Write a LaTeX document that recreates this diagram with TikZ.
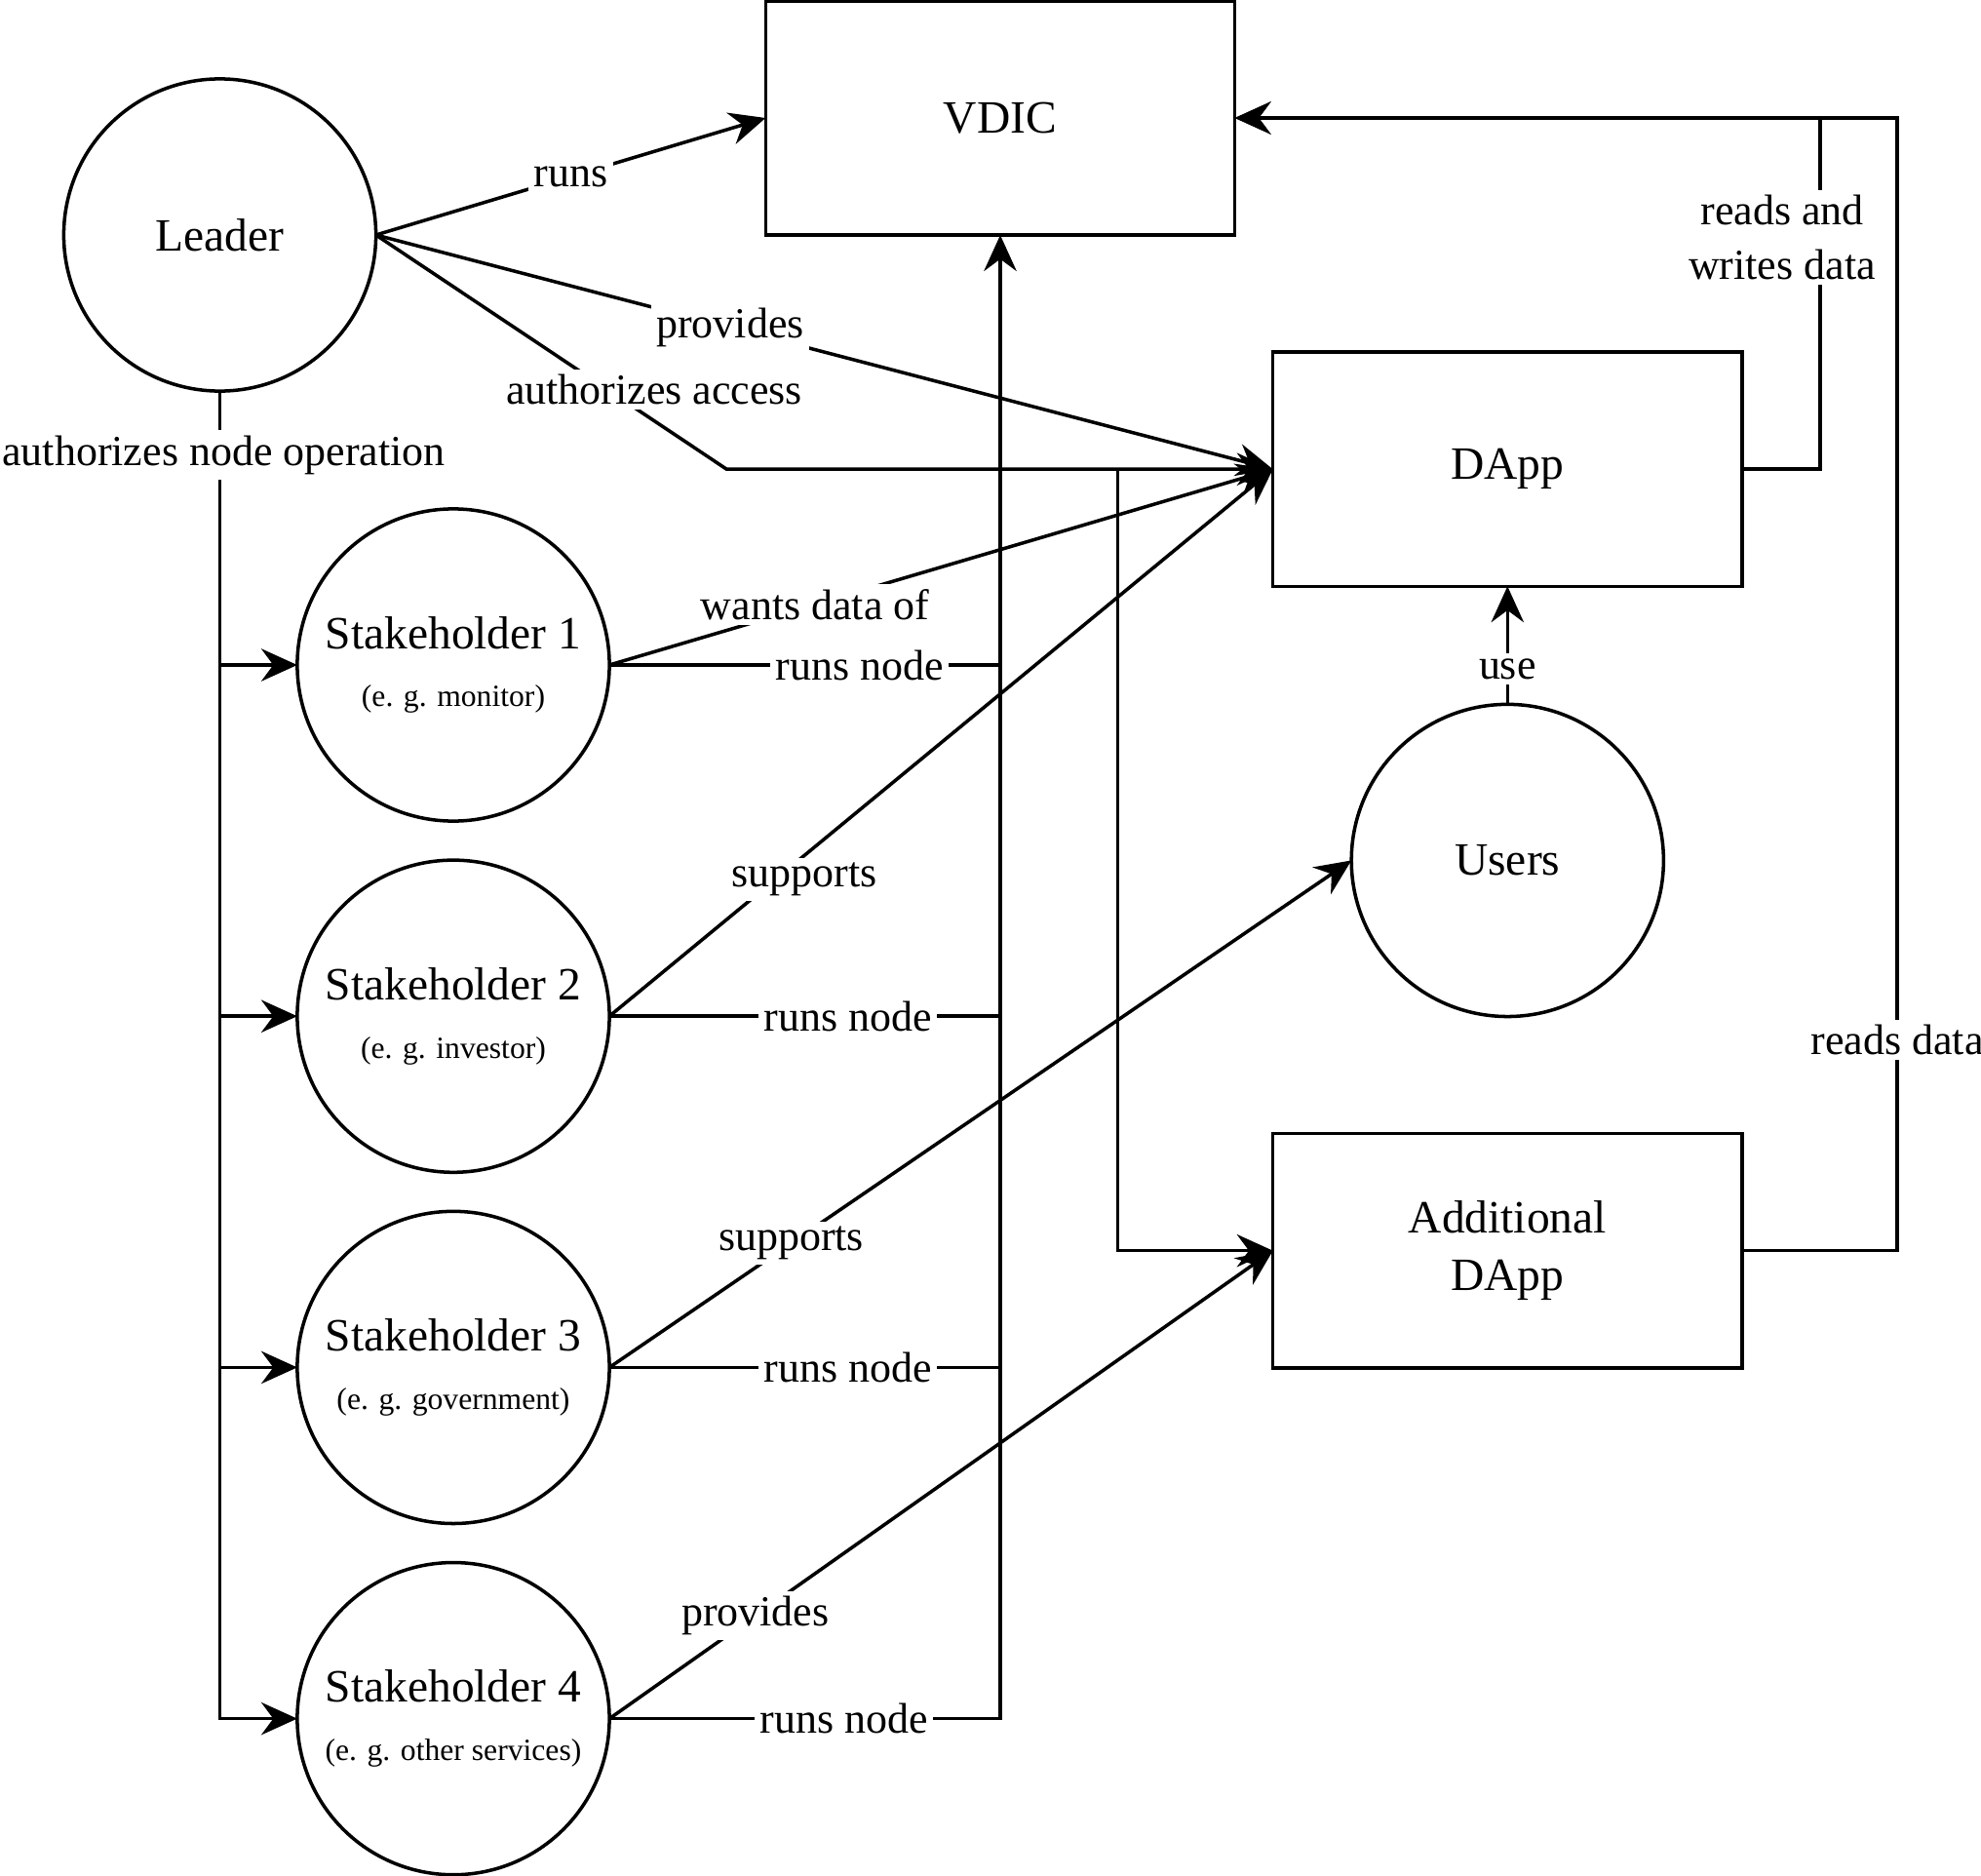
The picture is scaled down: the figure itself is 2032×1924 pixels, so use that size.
\documentclass[tikz,border=0pt]{standalone}
\usepackage{fontspec}
\setmainfont{Liberation Serif}
\usetikzlibrary{arrows.meta,positioning,calc}
\newcommand{\egnote}[1]{\\[0pt]{\fontsize{9}{11}\selectfont (e. g. #1)}}

\begin{document}
\begin{tikzpicture}[x=0.01cm,y=-0.01cm,>={Stealth[length=10.5pt,width=9.5pt,inset=3.5pt]},line width=1pt]
			\tikzset{actor/.style={draw, circle, minimum size=3.2cm, inner sep=0pt, outer sep=0pt, align=center, font=\fontsize{13.5}{17}\selectfont},
				block/.style={draw, rectangle, minimum width=4.81cm, minimum height=2.4cm, outer sep=0pt, align=center, font=\fontsize{13.5}{17}\selectfont},
				lbl/.style={fill=white, inner sep=1.5pt, align=center, font=\fontsize{12.5}{16}\selectfont},
			}
			\useasboundingbox (0,0) rectangle (2032,1924);
			\node [block] (vdic) at (1026,121) {VDIC};
			\node [block, below right = 1.2cm and 0.39cm of vdic] (dapp) {DApp};
			\node [actor, below = 1.21cm of dapp] (users) {Users};
			\node [block, below = 1.2cm of users] (adddapp) {Additional\\DApp};
			\node [actor] (leader) at (225.5,241) {Leader};
			\node [actor] (sh1) at (465,682) {Stakeholder 1\egnote{monitor}};
			\node [actor, below = 4mm of sh1] (sh2) {Stakeholder 2\egnote{investor}};
			\node [actor, below = 4mm of sh2] (sh3) {Stakeholder 3\egnote{government}};
			\node [actor, below = 4mm of sh3] (sh4) {Stakeholder 4\egnote{other services}};

			% leader
			\draw[->] (leader.east) -- node[lbl]{runs} (vdic.west);
			\draw[->] (leader.east) -- node[lbl,pos=0.395]{provides} (dapp.west);
			\coordinate (acc) at ([xshift=-5.6cm]dapp.west);
			\coordinate (fork) at ([xshift=-1.59cm]dapp.west);
			\draw[->] (leader.east) -- node[lbl,pos=0.66,xshift=4.8mm]{authorizes access} (acc) -- (dapp.west);
			\draw[->] (fork) |- (adddapp.west);
			\draw[->] (leader.south) |- node[lbl,pos=0.024,xshift=0.4mm]{authorizes node operation} (sh4.west);
			\foreach \s in {sh1,sh2,sh3}
				\draw[->] (leader.south |- \s.west) -- (\s.west);

			% stakeholders
			\foreach \s/\p in {sh1/0.64,sh2/0.61,sh3/0.61}
				\draw (\s.east) -- node[lbl,pos=\p]{runs node} (\s.east -| vdic.south);
			\draw[->] (sh4.east) -- node[lbl,pos=0.6]{runs node} (sh4.east -| vdic.south) -- (vdic.south);
			\draw[->] (sh1.east) -- node[lbl,pos=0.31]{wants data of} (dapp.west);
			\draw[->] (sh2.east) -- node[lbl,pos=0.25,xshift=3mm]{supports} (dapp.west);
			\draw[->] (sh3.east) -- node[lbl,pos=0.245]{supports} (users.west);
			\draw[->] (sh4.east) -- node[lbl,pos=0.22]{provides} (adddapp.west);

			% apps
			\draw[->] (users.north) -- node[lbl,pos=0.3]{use} (dapp.south);
			\draw[->] (dapp.east) -| node[lbl,pos=0.83,xshift=-3.9mm]{reads and\\writes data} ([xshift=6cm]vdic.east) -- (vdic.east);
			\draw[->] (adddapp.east) -| node[lbl,pos=0.593]{reads data} ([xshift=6.79cm]vdic.east) -- (vdic.east);
		\end{tikzpicture}
\end{document}
